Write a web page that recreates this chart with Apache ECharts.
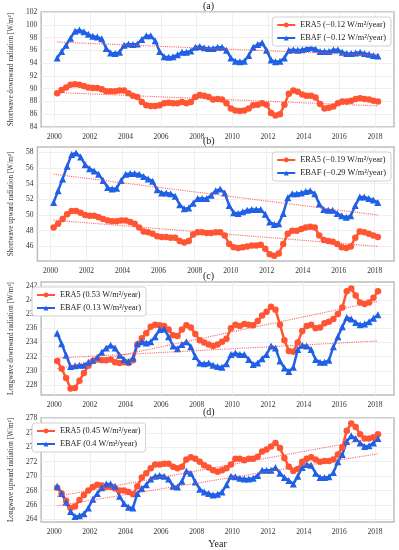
<!DOCTYPE html>
<html>
<head>
<meta charset="utf-8">
<script src="https://cdn.jsdelivr.net/npm/echarts@6/dist/echarts.min.js"></script>
<style>html,body{margin:0;padding:0;background:#fff;}#c{width:399px;height:550px;}</style>
</head>
<body>
<div id="c"></div>
<script>
// ---- data ----
const years = [2000.17,2000.42,2000.67,2000.92,2001.17,2001.42,2001.67,2001.92,2002.17,2002.42,2002.67,2002.92,
2003.17,2003.42,2003.67,2003.92,2004.17,2004.42,2004.67,2004.92,2005.17,2005.42,2005.67,2005.92,
2006.17,2006.42,2006.67,2006.92,2007.17,2007.42,2007.67,2007.92,2008.17,2008.42,2008.67,2008.92,
2009.17,2009.42,2009.67,2009.92,2010.17,2010.42,2010.67,2010.92,2011.17,2011.42,2011.67,2011.92,
2012.17,2012.42,2012.67,2012.92,2013.17,2013.42,2013.67,2013.92,2014.17,2014.42,2014.67,2014.92,
2015.17,2015.42,2015.67,2015.92,2016.17,2016.42,2016.67,2016.92,2017.17,2017.42,2017.67,2017.92,2018.17];

const swdERA5 = [89.3,89.8,90.2,90.6,90.7,90.6,90.4,90.2,90.1,90.1,89.9,89.6,89.6,89.6,89.7,89.7,89.3,88.9,88.7,87.9,
87.4,87.3,87.3,87.4,87.7,87.8,87.7,87.7,87.9,87.7,87.9,88.7,89.0,88.9,88.7,88.3,88.4,88.3,87.7,86.9,
86.6,86.5,86.6,86.9,87.4,87.5,87.7,87.5,86.2,85.8,86.0,87.5,89.2,89.7,89.5,89.1,88.9,88.9,88.6,87.6,
86.9,87.0,87.2,87.7,88.0,88.0,88.1,88.4,88.5,88.4,88.3,88.1,88.0];
const swdEBAF = [94.8,95.8,96.8,97.9,99.0,99.2,98.9,98.5,98.2,98.1,97.8,96.3,95.6,95.5,95.7,96.8,97.0,96.9,97.0,97.7,
98.3,98.3,97.5,95.8,95.0,94.9,95.0,95.3,95.7,95.7,95.9,96.5,96.6,96.4,96.3,96.3,96.5,96.5,96.0,94.8,
94.3,94.2,94.3,95.2,96.5,96.9,97.2,96.0,94.5,94.2,94.3,94.8,96.0,96.1,96.0,96.1,96.3,96.4,96.2,95.8,
95.8,95.8,96.1,96.1,95.7,95.5,95.5,95.6,95.7,95.5,95.4,95.2,95.1];

const swuERA5 = [48.4,48.9,49.5,50.1,50.5,50.5,50.3,50.0,49.9,49.9,49.7,49.5,49.3,49.2,49.2,49.3,49.3,49.1,48.9,48.4,
47.9,47.8,47.6,47.3,47.2,47.2,47.1,47.1,46.7,46.5,46.7,47.5,47.8,47.8,47.7,47.7,47.8,47.8,47.4,46.3,
45.9,45.8,45.9,46.0,46.1,46.1,46.2,45.7,45.0,44.8,45.1,46.3,47.6,48.0,48.0,48.2,48.4,48.5,48.4,47.4,
46.8,46.7,46.6,46.3,45.9,45.8,46.0,47.1,47.9,47.8,47.6,47.4,47.2];
const swuEBAF = [51.6,53.1,54.6,56.2,57.7,57.9,57.4,56.4,55.9,55.6,55.2,54.4,53.5,53.3,53.4,54.4,55.2,55.3,55.3,55.2,
54.9,54.6,54.3,53.2,52.8,52.8,52.7,52.4,51.3,50.8,50.9,51.5,52.1,52.1,52.1,52.5,53.1,53.3,52.8,51.2,
50.3,50.2,50.4,50.6,50.7,50.7,50.7,50.1,49.1,48.8,48.9,50.2,52.2,52.7,52.7,52.8,53.0,53.1,52.7,51.4,
50.7,50.6,50.6,50.2,49.9,49.7,49.9,51.2,52.3,52.3,52.1,51.9,51.6];

const lwdERA5 = [231.4,230.3,229.0,227.5,227.6,228.6,229.7,230.7,231.4,231.6,231.5,231.5,231.6,231.2,231.1,231.2,
231.1,231.5,233.7,234.6,235.3,236.2,236.5,236.4,236.3,235.8,235.0,234.9,235.8,236.4,236.1,235.2,
234.3,234.0,233.7,233.5,233.7,234.1,234.5,236.0,236.5,236.3,236.6,236.5,236.4,237.0,237.8,238.3,
239.0,238.6,236.5,234.3,232.8,232.7,234.0,235.6,236.3,236.5,236.0,236.1,236.7,236.9,237.3,238.0,
238.9,241.2,241.6,240.6,239.6,239.4,239.6,240.3,241.2];
const lwdEBAF = [235.3,233.8,232.2,230.6,230.7,230.8,230.8,231.2,231.5,231.9,232.6,233.2,233.6,233.2,232.2,231.6,
231.3,231.8,233.8,234.1,233.9,234.1,234.8,235.8,235.9,234.8,233.5,233.1,233.7,234.1,233.4,232.0,
231.1,231.0,231.1,230.8,230.6,230.5,231.0,232.3,232.5,232.3,232.3,231.6,230.9,231.1,231.7,232.3,
233.5,233.2,231.4,230.4,229.9,230.5,233.0,233.6,233.5,233.0,231.6,231.2,231.2,231.5,233.4,234.8,
236.2,237.5,237.3,236.8,236.5,236.6,236.9,237.4,237.9];

const lwuERA5 = [268.4,267.6,266.6,265.6,265.8,266.7,267.4,268.0,268.5,268.8,268.7,268.5,268.5,268.3,268.0,268.0,
267.8,267.5,268.6,269.8,270.4,271.1,271.6,271.6,271.7,271.7,271.3,271.1,271.3,272.3,272.6,272.4,
272.0,271.5,271.2,270.8,270.6,270.8,271.1,271.6,272.4,272.4,272.2,272.4,272.4,272.7,273.4,273.7,
274.1,274.6,273.9,272.5,271.3,270.7,271.0,272.0,272.4,272.6,272.3,272.0,272.1,272.1,272.3,273.0,
274.0,276.3,277.3,276.8,275.8,275.2,275.2,275.4,275.8];
const lwuEBAF = [268.6,267.6,266.4,265.1,264.4,264.5,264.8,265.6,266.8,267.6,268.4,268.9,268.9,268.6,267.2,266.2,
265.7,265.6,267.6,268.3,268.8,269.6,270.0,270.1,270.0,269.6,268.6,268.5,269.3,270.7,270.4,269.2,
268.2,267.8,267.6,267.4,267.5,267.8,268.8,270.0,269.9,269.7,269.6,269.6,269.7,270.1,270.8,270.8,
270.8,271.2,270.4,269.8,269.4,268.9,270.0,271.2,271.6,271.5,270.4,269.8,269.8,269.9,270.5,272.0,
273.0,274.8,275.6,275.2,274.6,274.1,274.2,274.6,275.2];

// linear trend end points (2000.17 and 2018.17)
const trendYears = [2000.17, 2018.17];
const swdERA5Trend = [89.4, 87.3];
const swdEBAFTrend = [97.3, 95.2];
const swuERA5Trend = [49.35, 46.0];
const swuEBAFTrend = [55.2, 50.0];
const lwdERA5Trend = [230.3, 239.8];
const lwdEBAFTrend = [231.8, 234.2];
const lwuERA5Trend = [267.2, 275.3];
const lwuEBAFTrend = [265.9, 273.1];

const xTicks = [2000,2002,2004,2006,2008,2010,2012,2014,2016,2018];
const yTicksA = [84,86,88,90,92,94,96,98,100,102];
const yTicksB = [46,48,50,52,54,56,58];
const yTicksC = [228,230,232,234,236,238,240,242];
const yTicksD = [264,266,268,270,272,274,276,278];

const panelTitles = ['(a)','(b)','(c)','(d)'];
const yNames = ['Shortwave downward radiation [W/m²]','Shortwave upward radiation [W/m²]',
                'Longwave downward radiation [W/m²]','Longwave upward radiation [W/m²]'];
const era5Names = ['ERA5 (−0.12 W/m²/year)','ERA5 (−0.19 W/m²/year)','ERA5 (0.53 W/m²/year)','ERA5 (0.45 W/m²/year)'];
const ebafNames = ['EBAF (−0.12 W/m²/year)','EBAF (−0.29 W/m²/year)','EBAF (0.13 W/m²/year)','EBAF (0.4 W/m²/year)'];

// ---- layout / style ----
const FONT = "'Liberation Serif','DejaVu Serif',serif";
const RED = '#FF5533';
const BLUE = '#1F60E6';
const panels = [
  {top:12, height:115, ymin:84, ymax:102, ticks:yTicksA, era:swdERA5, ebaf:swdEBAF, tEra:swdERA5Trend, tEbaf:swdEBAFTrend, legend:'right'},
  {top:147, height:114, ymin:44.14, ymax:58.66, ticks:yTicksB, era:swuERA5, ebaf:swuEBAF, tEra:swuERA5Trend, tEbaf:swuEBAFTrend, legend:'right'},
  {top:282, height:113, ymin:226.6, ymax:242.5, ticks:yTicksC, era:lwdERA5, ebaf:lwdEBAF, tEra:lwdERA5Trend, tEbaf:lwdEBAFTrend, legend:'left'},
  {top:418, height:116, ymin:263.65, ymax:278.05, ticks:yTicksD, era:lwuERA5, ebaf:lwuEBAF, tEra:lwuERA5Trend, tEbaf:lwuEBAFTrend, legend:'left'}
];

const pair = (xs, ys) => xs.map((x, i) => [x, ys[i]]);

const grid = [], xAxis = [], yAxis = [], series = [], legend = [], graphic = [];
panels.forEach((p, i) => {
  grid.push({left:28, right:5, top:p.top, height:p.height, show:true, borderColor:'#bdbdbd', borderWidth:1.5, backgroundColor:'#fff'});
  xAxis.push({
    type:'value', gridIndex:i, min:1999.27, max:2019.07,
    axisLine:{show:false}, axisTick:{show:false, customValues:xTicks},
    axisLabel:{customValues:xTicks, fontFamily:FONT, fontSize:7.5, color:'#333', margin:6, formatter:v=>String(Math.round(v))},
    splitLine:{show:true, lineStyle:{color:'#ebebeb', width:0.8}},
    name: i===3 ? 'Year' : '', nameLocation:'middle', nameGap:17,
    nameTextStyle:{fontFamily:FONT, fontSize:10, color:'#222'}
  });
  yAxis.push({
    type:'value', gridIndex:i, min:p.ymin, max:p.ymax,
    axisLine:{show:false}, axisTick:{show:false, customValues:p.ticks},
    axisLabel:{customValues:p.ticks, fontFamily:FONT, fontSize:7.5, color:'#333', margin:4},
    splitLine:{show:true, lineStyle:{color:'#ebebeb', width:0.8}},
    name:yNames[i], nameLocation:'middle', nameGap:17, nameRotate:90,
    nameTextStyle:{fontFamily:FONT, fontSize:7.2, color:'#333'}
  });
  series.push({
    name:era5Names[i], type:'line', xAxisIndex:i, yAxisIndex:i, data:pair(years, p.era),
    symbol:'circle', symbolSize:6.5, showSymbol:true, color:RED,
    lineStyle:{width:2.5, color:RED}, itemStyle:{color:RED}, z:3, animation:false
  });
  series.push({
    name:ebafNames[i], type:'line', xAxisIndex:i, yAxisIndex:i, data:pair(years, p.ebaf),
    symbol:'triangle', symbolSize:7, showSymbol:true, color:BLUE,
    lineStyle:{width:2.5, color:BLUE}, itemStyle:{color:BLUE}, z:3, animation:false
  });
  [p.tEra, p.tEbaf].forEach(t => {
    series.push({
      type:'line', xAxisIndex:i, yAxisIndex:i, data:pair(trendYears, t), symbol:'none',
      lineStyle:{type:'dotted', width:1.1, color:'#FF4A4A', opacity:0.85}, z:4, animation:false, silent:true
    });
  });
  const lg = {
    data:[era5Names[i], ebafNames[i]], orient:'vertical', top:p.top + 5,
    itemWidth:18, itemHeight:6, itemGap:5, padding:[4,5,4,4],
    backgroundColor:'#fff', borderColor:'#d0d0d0', borderWidth:1, borderRadius:3,
    textStyle:{fontFamily:FONT, fontSize:8.3, color:'#222'}
  };
  if (p.legend === 'right') lg.right = 8; else lg.left = 32;
  legend.push(lg);
  graphic.push({type:'text', left:203, top:p.top - 11, style:{text:panelTitles[i], font:'10px ' + FONT, fill:'#222'}});
});

const chart = echarts.init(document.getElementById('c'), null, {renderer:'canvas'});
chart.setOption({animation:false, grid, xAxis, yAxis, series, legend, graphic});
</script>
</body>
</html>
